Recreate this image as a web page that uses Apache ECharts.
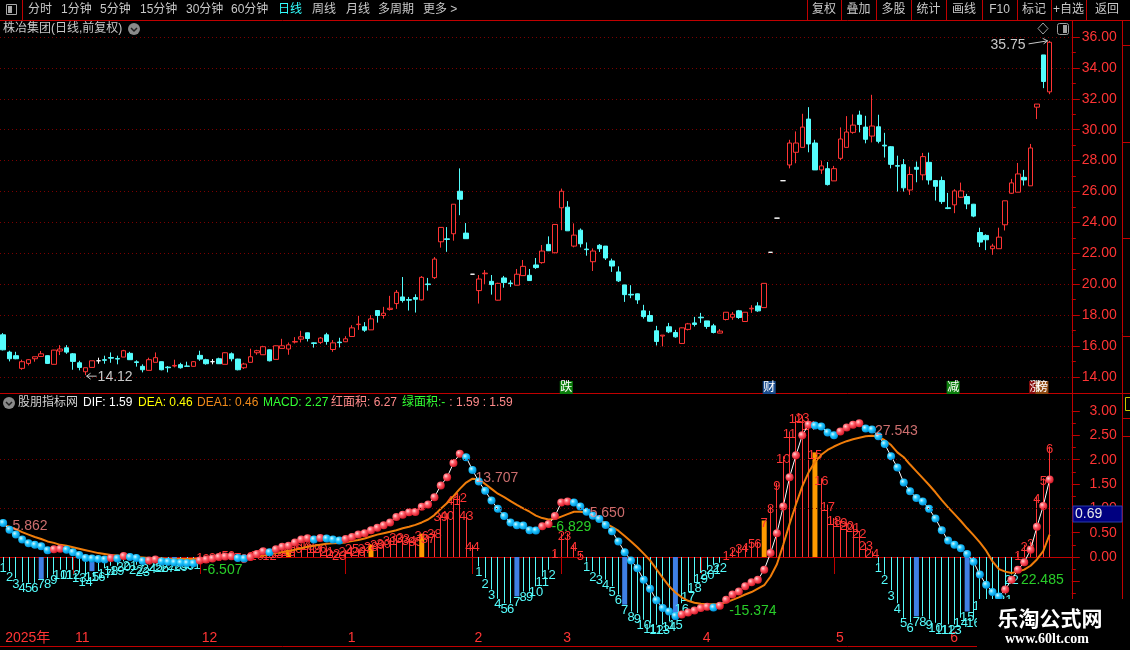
<!DOCTYPE html>
<html>
<head>
<meta charset="utf-8">
<script src="https://cdn.jsdelivr.net/npm/echarts@6/dist/echarts.min.js"></script>
<style>
html,body{margin:0;padding:0;background:#000;}
#main{width:1130px;height:650px;}
</style>
</head>
<body>
<div id="main"></div>
<script>
// daily candles, oldest first
var opens = [16.73,15.61,15.38,14.56,14.88,15.18,15.33,15.38,14.82,15.68,
  15.89,15.50,14.92,14.34,14.62,15.05,15.12,15.26,15.20,15.29,
  15.53,14.98,14.69,14.43,14.95,14.99,14.64,14.71,14.80,14.71,
  14.69,15.40,15.12,14.99,15.18,14.82,15.50,15.16,14.60,14.95,
  15.57,15.44,15.76,15.14,15.85,15.81,16.26,16.45,16.86,16.21,
  16.24,16.73,15.78,16.26,16.28,16.62,17.39,17.25,17.05,18.30,
  17.98,18.37,18.75,19.18,19.01,19.14,18.99,20.02,20.43,22.75,
  22.94,23.27,26.02,23.31,20.65,19.59,20.68,20.19,18.97,20.41,
  20.08,19.94,20.56,20.58,21.25,21.40,22.58,22.04,24.95,24.99,
  22.47,23.50,22.28,21.46,22.52,22.47,21.51,20.80,19.96,19.35,
  19.38,18.28,17.98,16.99,16.65,17.25,16.88,16.17,17.08,17.50,
  17.87,17.63,17.31,16.84,17.72,17.87,18.28,17.59,18.41,18.60,
  18.49,22.07,24.28,26.70,27.72,28.54,28.86,30.69,29.14,27.40,
  27.48,26.69,28.15,28.86,29.83,30.95,30.17,29.59,30.19,29.00,
  28.90,27.68,27.74,26.10,27.57,27.08,27.89,26.71,26.71,24.95,
  25.14,25.63,25.68,25.18,23.35,23.16,22.30,22.30,23.85,25.89,
  25.96,26.92,26.37,31.46,34.84,32.45];
var closes = [15.76,15.18,15.18,14.99,15.12,15.31,15.50,14.88,15.74,15.81,
  15.61,15.01,14.62,14.60,15.05,15.05,15.08,15.22,15.16,15.70,
  15.12,14.94,14.47,15.12,15.25,14.47,14.60,14.75,14.60,14.69,
  14.99,15.16,14.86,14.99,14.86,15.57,15.18,14.47,14.84,15.31,
  15.70,15.96,15.05,16.02,16.02,16.08,16.30,16.60,16.49,16.17,
  16.52,16.30,16.21,16.22,16.47,17.18,17.42,17.03,17.76,17.98,
  18.13,18.45,19.48,18.95,18.97,19.03,20.45,19.98,21.63,23.68,
  22.90,25.18,25.50,22.95,20.65,20.34,20.72,19.98,20.06,20.11,
  20.04,20.65,21.16,20.24,21.08,22.15,22.17,23.87,26.02,23.46,
  23.18,22.62,22.24,22.15,22.30,21.70,21.18,20.22,19.33,19.31,
  18.99,17.91,17.61,16.30,16.71,16.92,16.60,17.18,17.44,17.40,
  17.83,17.27,16.88,16.97,18.19,18.06,17.85,18.19,18.45,18.28,
  20.06,22.07,24.28,26.70,29.14,29.14,30.17,29.08,27.40,27.66,
  26.45,27.48,29.40,29.85,30.30,30.34,29.38,30.24,29.25,28.95,
  27.76,27.64,26.24,27.10,27.44,28.26,26.75,26.34,25.35,24.90,
  26.04,26.04,25.20,24.41,22.73,22.88,22.47,23.05,25.40,26.56,
  27.14,26.75,28.82,31.66,33.12,35.66];
var lows = [15.72,15.01,15.15,14.47,14.75,14.99,15.33,14.84,14.82,15.42,
  15.50,14.47,14.43,14.12,14.60,14.86,14.86,14.92,14.82,15.29,
  15.10,14.67,14.30,14.43,14.95,14.43,14.30,14.62,14.54,14.69,
  14.67,15.05,14.80,14.82,14.84,14.82,15.01,14.43,14.52,14.95,
  15.44,15.44,15.01,15.14,15.83,15.44,16.17,16.24,16.30,15.90,
  16.13,16.09,15.63,15.91,16.26,16.62,17.05,16.92,17.05,17.52,
  17.78,18.30,18.41,18.82,18.30,18.17,18.95,19.59,20.34,22.37,
  22.10,22.82,24.47,22.95,20.65,18.75,20.02,19.33,18.95,19.78,
  19.83,19.94,20.56,20.24,20.99,21.33,22.15,22.00,23.50,23.46,
  22.39,22.39,21.85,20.86,22.09,21.57,20.80,20.15,18.86,19.10,
  18.73,17.78,17.57,16.04,15.98,16.84,16.54,16.15,17.01,17.27,
  17.50,17.12,16.82,16.84,17.66,17.70,17.76,17.59,18.15,18.22,
  18.49,22.07,24.28,26.70,27.50,27.83,28.86,28.54,27.40,27.14,
  26.39,26.69,28.04,28.86,29.74,29.83,29.12,29.18,29.12,28.20,
  27.50,26.00,26.00,25.78,26.60,26.73,26.45,25.42,25.20,24.86,
  24.60,25.59,24.86,24.34,22.41,22.21,21.91,22.30,23.48,25.85,
  25.96,26.39,26.37,30.69,32.69,32.30];
var highs = [16.84,15.70,15.63,15.12,15.16,15.31,15.68,15.40,15.76,16.06,
  16.06,15.55,15.05,14.60,15.05,15.25,15.38,15.59,15.38,15.76,
  15.63,15.08,14.82,15.25,15.59,15.00,14.71,15.12,14.92,14.99,
  15.03,15.70,15.18,15.16,15.25,15.60,15.59,15.18,14.92,15.83,
  15.76,16.02,15.78,16.04,16.47,16.23,16.58,16.99,16.88,16.24,
  16.58,16.86,16.39,16.54,16.64,17.35,17.96,17.55,18.00,18.30,
  18.54,19.25,19.63,20.47,19.18,19.35,20.53,20.41,21.76,23.68,
  23.70,25.18,27.50,23.96,20.65,20.60,20.92,20.60,20.10,20.54,
  20.26,20.99,21.57,20.99,21.70,22.54,23.10,23.90,26.19,25.38,
  23.94,23.61,22.71,22.32,22.60,22.47,21.66,21.16,19.96,19.94,
  19.40,18.67,18.28,17.31,16.71,17.50,17.05,17.20,17.50,17.89,
  18.15,17.63,17.44,17.10,18.19,18.21,18.34,18.19,18.65,18.84,
  20.06,22.07,24.28,26.70,29.35,29.89,31.03,31.46,29.35,28.00,
  27.91,27.66,30.15,30.88,30.99,31.23,30.90,32.26,30.97,29.80,
  28.94,28.32,28.10,27.61,27.94,28.50,28.52,26.75,26.97,25.91,
  26.15,26.58,25.85,25.20,23.66,23.23,22.62,23.66,25.40,26.82,
  27.85,27.40,29.08,31.66,34.84,35.75];

// indicator panel
var dif = [0.70,0.56,0.46,0.36,0.28,0.25,0.22,0.14,0.16,0.17,
  0.15,0.10,0.04,-0.02,-0.03,-0.04,-0.05,-0.02,-0.03,0.02,
  0.00,-0.02,-0.08,-0.07,-0.05,-0.09,-0.10,-0.11,-0.12,-0.125,
  -0.13,-0.07,-0.05,-0.03,0.00,0.01,0.015,-0.02,-0.03,0.00,
  0.06,0.12,0.10,0.16,0.21,0.23,0.30,0.36,0.385,0.36,
  0.39,0.38,0.36,0.34,0.37,0.41,0.46,0.49,0.55,0.60,
  0.65,0.71,0.82,0.87,0.92,0.925,1.03,1.08,1.23,1.47,
  1.64,1.93,2.12,2.05,1.79,1.55,1.36,1.16,0.99,0.84,
  0.71,0.65,0.645,0.55,0.545,0.63,0.68,0.84,1.12,1.14,
  1.12,1.04,0.93,0.85,0.78,0.66,0.53,0.32,0.10,-0.07,
  -0.23,-0.47,-0.65,-0.89,-1.05,-1.12,-1.21,-1.18,-1.14,-1.10,
  -1.05,-1.02,-1.04,-1.00,-0.88,-0.77,-0.71,-0.60,-0.52,-0.47,
  -0.26,0.08,0.49,1.04,1.64,2.09,2.50,2.72,2.70,2.68,
  2.56,2.50,2.58,2.66,2.72,2.75,2.64,2.62,2.48,2.32,
  2.07,1.84,1.53,1.35,1.21,1.14,0.99,0.79,0.55,0.34,
  0.25,0.18,0.06,-0.10,-0.36,-0.57,-0.72,-0.81,-0.67,-0.47,
  -0.26,-0.11,0.15,0.62,1.05,1.59];
var dea = [0.66,0.62,0.57,0.51,0.46,0.41,0.37,0.32,0.29,0.25,
  0.23,0.20,0.17,0.14,0.11,0.08,0.06,0.04,0.03,0.02,
  0.01,0.00,-0.01,-0.02,-0.03,-0.03,-0.04,-0.04,-0.04,-0.04,
  -0.04,-0.03,-0.03,-0.02,-0.02,-0.01,-0.01,0.00,0.00,0.00,
  0.01,0.03,0.05,0.08,0.10,0.12,0.15,0.18,0.21,0.23,
  0.25,0.27,0.28,0.29,0.30,0.33,0.35,0.38,0.42,0.46,
  0.49,0.52,0.55,0.59,0.62,0.66,0.71,0.77,0.86,0.99,
  1.11,1.25,1.40,1.53,1.61,1.60,1.50,1.40,1.30,1.23,
  1.15,1.07,1.00,0.93,0.85,0.80,0.77,0.78,0.83,0.88,
  0.93,0.93,0.91,0.85,0.77,0.69,0.62,0.54,0.43,0.32,
  0.20,0.07,-0.07,-0.25,-0.43,-0.60,-0.73,-0.83,-0.90,-0.94,
  -0.96,-0.97,-0.97,-0.97,-0.93,-0.88,-0.83,-0.77,-0.72,-0.65,
  -0.58,-0.40,-0.15,0.25,0.68,1.08,1.45,1.74,1.95,2.10,
  2.20,2.27,2.33,2.38,2.42,2.45,2.48,2.49,2.47,2.40,
  2.30,2.15,2.05,1.90,1.76,1.62,1.48,1.33,1.17,1.02,
  0.88,0.74,0.59,0.45,0.30,0.13,-0.09,-0.25,-0.30,-0.33,
  -0.30,-0.26,-0.18,-0.05,0.12,0.46];
var macd = [-0.12,-0.29,-0.43,-0.52,-0.53,-0.53,-0.45,-0.43,-0.36,-0.26,
  -0.26,-0.26,-0.32,-0.40,-0.29,-0.29,-0.23,-0.18,-0.18,-0.09,
  -0.07,-0.16,-0.19,-0.14,-0.10,-0.12,-0.12,-0.07,-0.10,-0.08,
  -0.05,0.03,0.01,0.03,0.05,0.08,0.08,0.03,0.02,0.05,
  0.08,0.12,0.08,0.12,0.16,0.15,0.22,0.27,0.27,0.22,
  0.22,0.16,0.12,0.08,0.15,0.21,0.16,0.22,0.25,0.29,
  0.32,0.39,0.44,0.42,0.39,0.36,0.48,0.42,0.53,0.87,
  0.90,1.21,1.26,0.90,0.25,-0.19,-0.43,-0.67,-0.86,-0.95,
  -0.95,-0.81,-0.71,-0.71,-0.60,-0.40,-0.26,0.12,0.49,0.49,
  0.25,0.08,-0.09,-0.29,-0.36,-0.47,-0.60,-0.77,-0.98,-1.12,
  -1.15,-1.29,-1.36,-1.39,-1.39,-1.32,-1.29,-0.95,-0.71,-0.53,
  -0.33,-0.26,-0.16,-0.12,0.08,0.16,0.22,0.23,0.32,0.32,
  0.75,1.04,1.52,2.07,2.58,2.89,2.90,2.75,2.15,1.62,
  1.08,0.80,0.75,0.70,0.65,0.53,0.28,0.12,-0.12,-0.36,
  -0.68,-0.95,-1.25,-1.34,-1.22,-1.22,-1.28,-1.35,-1.38,-1.38,
  -1.38,-1.25,-1.12,-1.25,-0.90,-0.90,-0.88,-0.85,-0.77,-0.36,
  0.08,0.25,0.32,1.25,1.62,2.27];
var thickBars = [6,14,27,45,58,66,81,98,106,120,128,144,152];

var monthMarks = [[0,'2025年'],[11,'11'],[31,'12'],[54,'1'],[74,'2'],[88,'3'],[110,'4'],[131,'5'],[149,'6']];
// area sums printed on the indicator: [bar index, value, text, area]
var areaNotes = [[1,0.63,'5.862','red'],[31,-0.26,'-6.507','green'],[74,1.62,'13.707','red'],
  [86,0.62,'-6.829','green'],[92,0.90,'5.650','red'],[114,-1.12,'-15.374','green'],
  [137,2.58,'27.543','red'],[160,-0.48,'22.485','green']];
// event flags under the candles
var flags = [[88,'跌'],[120,'财'],[149,'减'],[162,'涨'],[163,'榜']];
var flagColors = {'跌':'#0b7f0b','财':'#1b4d8f','减':'#0b7f0b','涨':'#8a0c0c','榜':'#8f4a12'};

var SLOTS = 169;
var RED = '#ff3434', CYAN = '#54fcfc', LINE = '#c00000', GRID = '#7c0000', GRAY = '#c8c8c8';
var FONT = '"Liberation Sans","Noto Sans CJK SC",sans-serif';
var NARROW = '"Liberation Sans Narrow","Liberation Sans","Noto Sans CJK SC",sans-serif';

var cats = [];
for (var i = 0; i < SLOTS; i++) cats.push(String(i));
var monthMap = {};
monthMarks.forEach(function (m) { monthMap[m[0]] = m[1]; });

var candles = opens.map(function (o, i) { return [o, closes[i], lows[i], highs[i]]; });

var runNo = [], n = 0;
for (i = 0; i < macd.length; i++) {
  if (i > 0 && (macd[i] >= 0) === (macd[i - 1] >= 0)) n++; else n = 1;
  runNo.push(n);
}
var barData = macd.map(function (v, i) { return [i, v, thickBars.indexOf(i) >= 0 ? 1 : 0, runNo[i]]; });

var redDot = new echarts.graphic.RadialGradient(0.35, 0.35, 0.65, [
  {offset: 0, color: '#ffd8d8'}, {offset: 0.45, color: '#ff5a66'}, {offset: 1, color: '#d81c2a'}]);
var cyanDot = new echarts.graphic.RadialGradient(0.35, 0.35, 0.65, [
  {offset: 0, color: '#dcfaff'}, {offset: 0.45, color: '#22c8ff'}, {offset: 1, color: '#0090d8'}]);
var difData = dif.map(function (v, i) {
  return {value: v, itemStyle: {color: (i === 0 || v < dif[i - 1]) ? cyanDot : redDot}};
});

function renderBar(params, api) {
  var idx = api.value(0), v = api.value(1), thick = api.value(2), k = api.value(3);
  var p0 = api.coord([idx, 0]), p1 = api.coord([idx, v]);
  var up = v >= 0;
  var w = thick ? 5 : 1;
  var x = thick ? p0[0] - 2.5 : Math.round(p0[0] - 0.5);
  var fill = thick ? (up ? '#ff9a00' : '#3f7fe6') : (up ? RED : CYAN);
  return {
    type: 'group',
    children: [
      {type: 'rect', shape: {x: x, y: Math.min(p0[1], p1[1]), width: w, height: Math.abs(p1[1] - p0[1])},
        style: {fill: fill}},
      {type: 'text', x: p1[0], y: up ? p1[1] + 3 : p1[1] + 6,
        style: {text: String(k), fill: up ? RED : CYAN, font: '13px ' + NARROW,
          align: 'center', verticalAlign: 'middle', textAlign: 'center', textVerticalAlign: 'middle'}}
    ]
  };
}

var chart = echarts.init(document.getElementById('main'));
var option = {
  backgroundColor: '#000',
  animation: false,
  grid: [
    {left: 0, top: 37, width: 1071.8, height: 340},
    {left: 0, top: 411, width: 1071.8, height: 219}
  ],
  xAxis: [
    {gridIndex: 0, type: 'category', data: cats, boundaryGap: true, show: false},
    {gridIndex: 1, type: 'category', data: cats, boundaryGap: true,
      axisLine: {show: true, lineStyle: {color: LINE}},
      axisTick: {show: true, alignWithLabel: true, length: 17, lineStyle: {color: LINE},
        interval: function (i) { return i > 0 && monthMap[i] !== undefined; }},
      axisLabel: {show: true, color: RED, fontSize: 14, fontFamily: NARROW, align: 'left', margin: 1,
        padding: [0, 0, 0, 2],
        interval: function (i) { return monthMap[i] !== undefined; },
        formatter: function (v, i) { return monthMap[i] || ''; }},
      splitLine: {show: false}}
  ],
  yAxis: [
    {gridIndex: 0, type: 'value', position: 'right', min: 14, max: 36, interval: 2,
      axisLine: {show: false},
      axisTick: {show: true, length: 8, lineStyle: {color: LINE}},
      minorTick: {show: true, splitNumber: 2, length: 4, lineStyle: {color: LINE}},
      splitLine: {show: true, lineStyle: {color: GRID, type: [1, 3]}},
      axisLabel: {color: RED, fontSize: 14, fontFamily: NARROW, align: 'right', margin: 45,
        formatter: function (v) { return v.toFixed(2); }}},
    {gridIndex: 1, type: 'value', position: 'right', min: -1.5, max: 3, interval: 0.5,
      axisLine: {show: false},
      axisTick: {show: true, length: 8, lineStyle: {color: LINE}},
      minorTick: {show: true, splitNumber: 2, length: 4, lineStyle: {color: LINE}},
      splitLine: {show: false},
      axisLabel: {color: RED, fontSize: 14, fontFamily: NARROW, align: 'right', margin: 45,
        formatter: function (v) { return v < 0 ? '' : v.toFixed(2); }}}
  ],
  series: [
    {type: 'candlestick', name: 'K', xAxisIndex: 0, yAxisIndex: 0, data: candles, barWidth: 5,
      itemStyle: {color: '#000', color0: CYAN, borderColor: RED, borderColor0: CYAN,
        borderColorDoji: '#ffffff', borderWidth: 1}},
    {type: 'custom', name: 'MACD', xAxisIndex: 1, yAxisIndex: 1, data: barData,
      renderItem: renderBar, encode: {x: 0, y: 1}, z: 2},
    {type: 'line', name: 'DEA1', xAxisIndex: 1, yAxisIndex: 1, data: dea, symbol: 'none',
      lineStyle: {color: '#f07d0a', width: 2}, z: 3,
      markLine: {silent: true, symbol: 'none', label: {show: false},
        lineStyle: {color: GRID, type: [1, 3], width: 1},
        data: [{yAxis: 1}, {yAxis: 2}]}},
    {type: 'line', name: 'DIF', xAxisIndex: 1, yAxisIndex: 1, data: difData,
      symbol: 'circle', symbolSize: 8, showSymbol: true, showAllSymbol: true,
      lineStyle: {color: '#ffffff', width: 1}, z: 4},
    {type: 'scatter', name: 'notes', xAxisIndex: 1, yAxisIndex: 1, symbolSize: 0, z: 5,
      data: areaNotes.map(function (a) {
        return {value: [a[0], a[1]], label: {show: true, position: 'right', distance: 3,
          formatter: a[2], color: a[3] === 'red' ? '#ff8a8a' : '#33ff33',
          fontSize: 14, fontFamily: NARROW}};
      })}
  ]
};
chart.setOption(option);

// chrome around the chart
var G = [];
function T(x, y, s, c, size, align, fam, weight, stroke) {
  var st = {text: s, fill: c, font: (weight || 'normal') + ' ' + size + 'px ' + (fam || FONT),
    align: align || 'left', verticalAlign: 'middle', textAlign: align || 'left', textVerticalAlign: 'middle'};
  if (stroke) { st.stroke = stroke; st.lineWidth = 3; }
  G.push({type: 'text', x: x, y: y, z: 60, style: st});
}
function L(x1, y1, x2, y2, c) {
  G.push({type: 'line', z: 50, shape: {x1: x1, y1: y1, x2: x2, y2: y2}, style: {stroke: c, lineWidth: 1}});
}
function R(x, y, w, h, fill, stroke, z) {
  G.push({type: 'rect', z: z || 55, shape: {x: x, y: y, width: w, height: h},
    style: {fill: fill || 'none', stroke: stroke || 'none', lineWidth: 1}});
}

// toolbar
L(0, 20.5, 1130, 20.5, LINE);
L(22.5, 0, 22.5, 20, LINE);
R(6.5, 4.5, 10, 10, 'none', '#a8a8a8');
R(8, 6, 4, 7, '#a8a8a8');
[['分时', 28], ['1分钟', 61], ['5分钟', 100], ['15分钟', 140], ['30分钟', 186], ['60分钟', 231],
 ['日线', 278], ['周线', 312], ['月线', 346], ['多周期', 378], ['更多 >', 423]].forEach(function (t) {
  T(t[1], 10, t[0], t[0] === '日线' ? '#33ffff' : GRAY, 12);
});
[807, 841, 876, 911, 946, 982, 1017, 1051, 1086].forEach(function (x) { L(x + 0.5, 0, x + 0.5, 20, LINE); });
[['复权', 824], ['叠加', 858.5], ['多股', 893.5], ['统计', 928.5], ['画线', 964], ['F10', 999.5],
 ['标记', 1034], ['+自选', 1068.5], ['返回', 1107]].forEach(function (t) {
  T(t[1], 10, t[0], GRAY, 12, 'center');
});

// panel frames
L(0, 393.5, 1130, 393.5, LINE);
L(0, 646.5, 1130, 646.5, LINE);
L(1072.5, 20, 1072.5, 647, LINE);
L(1122.5, 20, 1122.5, 647, LINE);
[45.5, 142.5, 238.5, 336.5, 418.5, 436.5].forEach(function (y) { L(1122, y, 1130, y, LINE); });
R(1125.5, 397.5, 8, 13, 'none', '#c8c800');

// titles
T(3, 29, '株冶集团(日线,前复权)', GRAY, 12);
G.push({type: 'circle', z: 55, shape: {cx: 134, cy: 29, r: 6}, style: {fill: '#8a8a8a'}});
G.push({type: 'polyline', z: 56, shape: {points: [[131, 28], [134, 31], [137, 28]]}, style: {stroke: '#202020', lineWidth: 1.5}});
G.push({type: 'circle', z: 55, shape: {cx: 9, cy: 403, r: 6}, style: {fill: '#8a8a8a'}});
G.push({type: 'polyline', z: 56, shape: {points: [[6, 402], [9, 405], [12, 402]]}, style: {stroke: '#202020', lineWidth: 1.5}});
T(18, 403, '股朋指标网', '#d0d0d0', 12);
T(83, 403, 'DIF: 1.59', '#ffffff', 12);
T(138, 403, 'DEA: 0.46', '#ffff00', 12);
T(197, 403, 'DEA1: 0.46', '#f08a1a', 12);
T(263, 403, 'MACD: 2.27', '#33ff33', 12);
T(331, 403, '红面积: 6.27', '#ff8a8a', 12);
T(402, 403, '绿面积:-', '#33ff33', 12);
T(446, 403, ' : 1.59 : 1.59', '#ff8a8a', 12);

// top-right icons
G.push({type: 'polygon', z: 55, shape: {points: [[1043, 23], [1048, 28.5], [1043, 34], [1038, 28.5]]},
  style: {fill: 'none', stroke: '#a0a0a0', lineWidth: 1}});
G.push({type: 'rect', z: 55, shape: {x: 1057.5, y: 23.5, width: 11, height: 11, r: 2},
  style: {fill: 'none', stroke: '#a0a0a0', lineWidth: 1}});
R(1063, 25, 4, 8, '#a0a0a0');

// crosshair value box
R(1073, 506, 49, 16, '#000080', '#2a3ca8', 70);
T(1075, 514, '0.69', '#e8e8e8', 14, 'left', NARROW);
G[G.length - 1].z = 71;

// price marks anchored to data
var pHi = chart.convertToPixel({xAxisIndex: 0, yAxisIndex: 0}, [165, highs[165]]);
T(pHi[0] - 24, pHi[1] + 4, highs[165].toFixed(2), GRAY, 14, 'right', NARROW);
L(pHi[0] - 21, pHi[1] + 3, pHi[0] - 2, pHi[1], GRAY);
G.push({type: 'polyline', z: 56, shape: {points: [[pHi[0] - 7, pHi[1] - 2.5], [pHi[0] - 2, pHi[1]], [pHi[0] - 6, pHi[1] + 3]]},
  style: {stroke: GRAY, lineWidth: 1}});
var pLo = chart.convertToPixel({xAxisIndex: 0, yAxisIndex: 0}, [13, lows[13]]);
L(pLo[0] + 1, pLo[1] + 1, pLo[0] + 11, pLo[1] + 1, GRAY);
G.push({type: 'polyline', z: 56, shape: {points: [[pLo[0] + 5, pLo[1] - 2], [pLo[0] + 1, pLo[1] + 1], [pLo[0] + 5, pLo[1] + 4]]},
  style: {stroke: GRAY, lineWidth: 1}});
T(pLo[0] + 12, pLo[1] + 1.5, lows[13].toFixed(2), GRAY, 14, 'left', NARROW);

// event flags
flags.forEach(function (f) {
  var p = chart.convertToPixel({xAxisIndex: 0, yAxisIndex: 0}, [f[0], 14]);
  R(p[0] - 1.5, 381, 13, 13, flagColors[f[1]], null, 57);
  T(p[0] + 5, 387.5, f[1], '#ffffff', 12, 'center');
});

// watermark block
R(977, 599, 153, 51, '#000', null, 80);
T(1050, 618, '乐淘公式网', '#ffffff', 21, 'center', '"Noto Sans CJK SC",sans-serif', 'bold', '#000');
G[G.length - 1].z = 81;
T(1047, 639, 'www.60lt.com', '#ffffff', 14, 'center', '"Liberation Serif","DejaVu Serif",serif', 'bold', '#000');
G[G.length - 1].z = 81;

chart.setOption({graphic: G});
</script>
</body>
</html>
